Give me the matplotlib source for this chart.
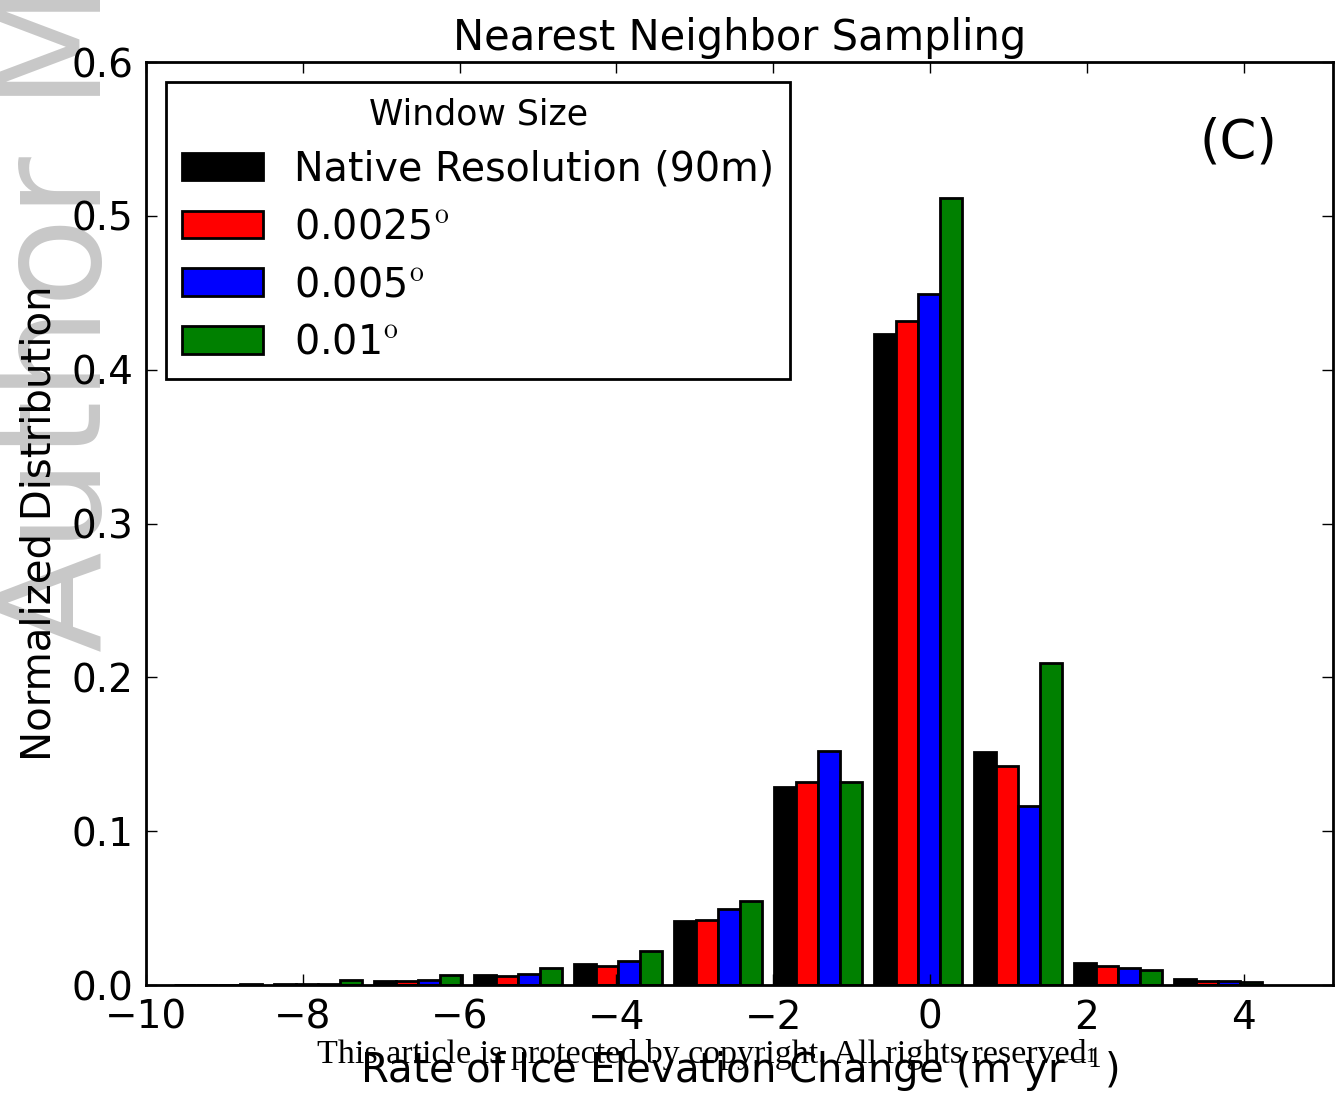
import numpy as np
import matplotlib
matplotlib.use('Agg')
import matplotlib.pyplot as plt

plt.rcParams.update({'font.size': 28, 'mathtext.fontset': 'cm'})

# histogram bins (left edge of first bin, bin spacing) and bar width
first_bin = -9.646
bin_step = 1.276
bar_w = 0.28

labels = ['Native Resolution (90m)', r'0.0025$^{\mathrm{o}}$',
          r'0.005$^{\mathrm{o}}$', r'0.01$^{\mathrm{o}}$']
colors = ['k', 'r', 'b', 'g']

native = [0.0003, 0.0008, 0.0026, 0.0063, 0.0134, 0.0414, 0.1289, 0.4232, 0.1513, 0.0141, 0.0037]
w0025 = [0.0002, 0.0006, 0.0028, 0.0061, 0.0123, 0.0423, 0.1322, 0.4318, 0.1426, 0.0126, 0.0026]
w005 = [0.0003, 0.0008, 0.0033, 0.0074, 0.0156, 0.0497, 0.1523, 0.4492, 0.1164, 0.0108, 0.0028]
w01 = [0.0009, 0.0030, 0.0067, 0.0108, 0.0219, 0.0545, 0.1322, 0.5114, 0.2093, 0.0098, 0.0020]
series = [native, w0025, w005, w01]

fig = plt.figure(figsize=(13.35, 10.94), dpi=100)
ax = fig.add_axes([0.1094, 0.0996, 0.8891, 0.8437])

left = first_bin + bin_step * np.arange(len(native))
for i, vals in enumerate(series):
    ax.bar(left + i * bar_w, vals, bar_w, align='edge', color=colors[i],
           edgecolor='black', linewidth=2, label=labels[i])

ax.set_xlim(-10, 5.14)
ax.set_ylim(0, 0.6)
ax.set_xticks(np.arange(-10, 5, 2))
ax.set_yticks(np.arange(0, 0.61, 0.1))
ax.set_yticklabels(['%.1f' % v for v in np.arange(0, 0.61, 0.1)])
ax.tick_params(direction='in', top=True, right=True, length=8, width=1)
ax.tick_params(axis='x', pad=10)
ax.tick_params(axis='y', pad=9)
for s in ax.spines.values():
    s.set_linewidth(2)

ax.set_title('Nearest Neighbor Sampling', fontsize=30, pad=9)
ax.set_xlabel('Rate of Ice Elevation Change (m yr$^{-1}$)', fontsize=29,
              labelpad=6)
ax.set_ylabel('Normalized Distribution', fontsize=29, labelpad=8.5)
ax.text(0.92, 0.913, '(C)', transform=ax.transAxes, fontsize=38,
        ha='center', va='center')

leg = ax.legend(loc='upper left', title='Window Size', fontsize=28.5,
                title_fontsize=25, fancybox=False, framealpha=1,
                handlelength=2.05, borderpad=0.4, labelspacing=0.45)
leg.get_frame().set_edgecolor('black')
leg.get_frame().set_linewidth(2)

# journal watermark and footer
fig.text(0.045, 0.404, 'Author Manuscript', rotation=90, fontsize=106,
         color='#c8c8c8', ha='center', va='bottom', zorder=-5)
fig.text(0.526, 0.036, 'This article is protected by copyright. All rights reserved',
         family='Liberation Serif', fontsize=24.5, ha='center', va='center')
fig.text(0.817, 0.033, '1', family='Liberation Serif', fontsize=15,
         ha='center', va='center')

fig.savefig('out.png', dpi=100)
